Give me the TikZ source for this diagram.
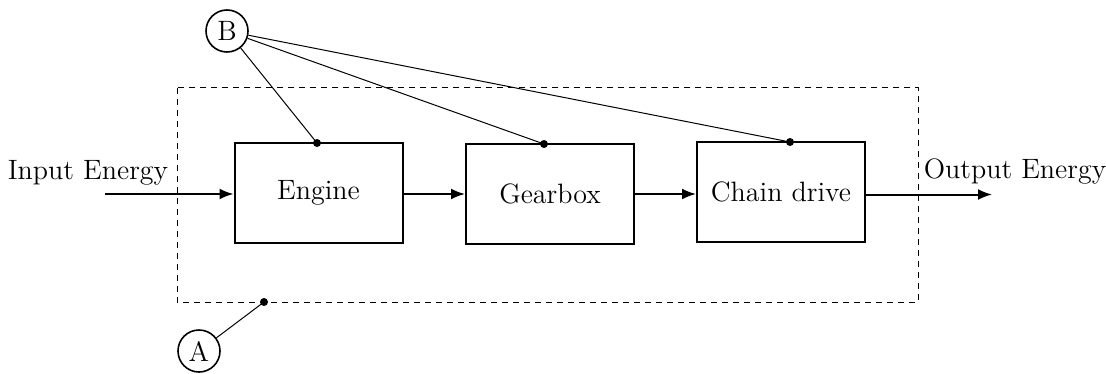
\documentclass[tikz,border=0pt]{standalone}
\usetikzlibrary{arrows.meta}
\begin{document}
\begin{tikzpicture}[x=0.5pt,y=-0.5pt,
  blk/.style={draw,line width=1pt,minimum width=84pt,minimum height=50pt,inner sep=0pt,font=\fontsize{14}{16}\selectfont},
  lbl/.style={font=\fontsize{14}{16}\selectfont,inner sep=0pt},
  circ/.style={draw,circle,line width=0.8pt,minimum size=21pt,inner sep=0pt,font=\fontsize{14}{16}\selectfont},
  flow/.style={line width=1pt,-{Latex[length=7pt,width=5.5pt]}},
  thin/.style={line width=0.5pt},
  dot/.style={circle,fill,inner sep=0pt,minimum size=4pt}]
\useasboundingbox (0,0) rectangle (1106,374);
\draw[dashed,line width=0.5pt,dash pattern=on 3pt off 2.5pt] (177,88) rectangle (918,302);
\node[blk] (eng) at (318.5,193) {Engine};
\node[blk] (gear) at (550,194) {Gearbox};
\node[blk] (chain) at (781,192) {Chain drive};
\coordinate (in) at (105,194);
\coordinate (out) at (992,194.5);
\node[lbl] (tin) at (88,173) {Input Energy};
\node[lbl] (tout) at (1015,172) {Output Energy};
\draw[flow] (in) -- (in -| eng.west);
\draw[flow] (eng.east |- 0,194) -- (gear.west |- 0,194);
\draw[flow] (gear.east |- 0,194) -- (chain.west |- 0,194);
\draw[flow] (chain.east |- 0,194.5) -- (out);
\node[circ] (B) at (227,31) {B};
\node[circ] (A) at (199,351) {A};
\node[dot] (d1) at (317,143) {};
\node[dot] (d2) at (544,144) {};
\node[dot] (d3) at (790,142) {};
\node[dot] (d4) at (264,302) {};
\draw[thin] (B) -- (d1.center);
\draw[thin] (B) -- (d2.center);
\draw[thin] (B) -- (d3.center);
\draw[thin] (A) -- (d4.center);
\end{tikzpicture}
\end{document}
